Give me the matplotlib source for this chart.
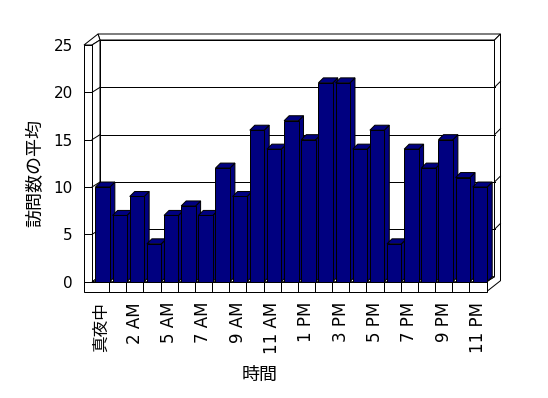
import numpy as np
import matplotlib
matplotlib.use("Agg")
import matplotlib.pyplot as plt
from matplotlib.patches import Polygon

plt.rcParams['font.family'] = ['DejaVu Sans', 'Noto Sans CJK JP']

hours = ["真夜中", "1 AM", "2 AM", "4 AM", "5 AM", "6 AM", "7 AM", "8 AM",
         "9 AM", "10 AM", "11 AM", "正午", "1 PM", "2 PM", "3 PM", "4 PM",
         "5 PM", "6 PM", "7 PM", "8 PM", "9 PM", "10 PM", "11 PM"]
visits = [10, 7, 9, 4, 7, 8, 7, 12, 9, 16, 14, 17, 15, 21, 21, 14, 16, 4,
          14, 12, 15, 11, 10]
y_ticks = [0, 5, 10, 15, 20, 25]

W, H = 548, 398
# front plane of the box, in pixels
left_px, right_px, top_px, bottom_px = 92, 486.5, 45, 281.7

fig = plt.figure(figsize=(W / 100, H / 100), dpi=100)
ax = fig.add_axes([left_px / W, (H - bottom_px) / H,
                   (right_px - left_px) / W, (bottom_px - top_px) / H])
n = len(visits)
ymax = y_ticks[-1]
ax.set_xlim(-0.5, n - 0.5)
ax.set_ylim(0, ymax)
ax.patch.set_visible(False)
for s in ax.spines.values():
    s.set_visible(False)

# pixel -> data unit helpers for the fake 3D depth
ux = n / (right_px - left_px)
uy = ymax / (bottom_px - top_px)


def off(px, py):
    return px * ux, py * uy


Dx, Dy = off(8, 5)      # back wall inner face
D2x, D2y = off(14, 11)  # back wall outer face
Bx, By = off(5, 5)      # bar depth
wt = 8 * ux             # left wall thickness
ft = 10 * uy            # floor thickness
x0, x1 = -0.5, n - 0.5
lw = 0.72


def face(pts, fc="white", z=1):
    ax.add_patch(Polygon(pts, closed=True, facecolor=fc, edgecolor="black",
                         linewidth=lw, clip_on=False, zorder=z,
                         joinstyle="miter"))


# walls and floor
face([(x0 + Dx, Dy), (x1 + Dx, Dy), (x1 + Dx, ymax + Dy), (x0 + Dx, ymax + Dy)], z=0.5)
face([(x0 + Dx, ymax + Dy), (x1 + Dx, ymax + Dy), (x1 + D2x, ymax + D2y),
      (x0 - wt + D2x, ymax + D2y)], z=0.5)
face([(x0 - wt, ymax), (x0, ymax), (x0 + Dx, ymax + Dy), (x0 - wt + D2x, ymax + D2y)], z=0.5)
face([(x1, 0), (x1, -ft), (x1 + D2x, -ft + D2y), (x1 + D2x, ymax + D2y),
      (x1 + Dx, ymax + Dy), (x1 + Dx, Dy)], z=0.5)
face([(x0, 0), (x0, ymax), (x0 + Dx, ymax + Dy), (x0 + Dx, Dy)], z=0.5)
face([(x0 - wt, 0), (x0, 0), (x0, ymax), (x0 - wt, ymax)], z=0.6)

# gridlines on the back wall, left wall and right edge
for v in y_ticks[1:-1]:
    ax.plot([x0 + Dx, x1 + Dx], [v + Dy, v + Dy], color="black", lw=lw, zorder=0.8, clip_on=False)
    ax.plot([x0, x0 + Dx], [v, v + Dy], color="black", lw=lw, zorder=0.8, clip_on=False)
    ax.plot([x1 + Dx, x1 + D2x], [v + Dy, v + D2y], color="black", lw=lw, zorder=0.8, clip_on=False)

# floor
face([(x0, 0), (x1, 0), (x1 + Dx, Dy), (x0 + Dx, Dy)], z=0.9)
face([(x0 - wt, -ft), (x1, -ft), (x1, 0), (x0 - wt, 0)], z=0.9)
ax.vlines(np.arange(1, n) - 0.5, -ft, 0, color="black", lw=lw, zorder=0.95, clip_on=False)

# bars
bw = 0.84
xl = np.arange(n) - 0.3
navy = "#000080"
for xi, v in zip(xl, visits):
    face([(xi + bw, 0), (xi + bw, v), (xi + bw + Bx, v + By), (xi + bw + Bx, By)], navy, z=3)
for xi, v in zip(xl, visits):
    face([(xi, v), (xi + bw, v), (xi + bw + Bx, v + By), (xi + Bx, v + By)], navy, z=3.1)
ax.bar(xl, visits, width=bw, align="edge", color=navy, edgecolor="black",
       linewidth=lw, zorder=3.2, clip_on=False)

# axes ticks and labels
ax.set_yticks(y_ticks)
ax.tick_params(axis="y", length=8 * 0.72, width=lw, pad=8, labelsize=11)
ax.set_xticks(np.arange(0, n, 2))
ax.set_xticklabels(hours[::2], rotation=90)
ax.tick_params(axis="x", length=0, pad=14.6, labelsize=12)

fig.text(35 / W, 1 - 173 / H, "訪問数の平均", rotation=90, ha="center", va="center", fontsize=13)
fig.text(260 / W, 1 - 375 / H, "時間", ha="center", va="center", fontsize=13)

fig.savefig("out.png", dpi=100)
